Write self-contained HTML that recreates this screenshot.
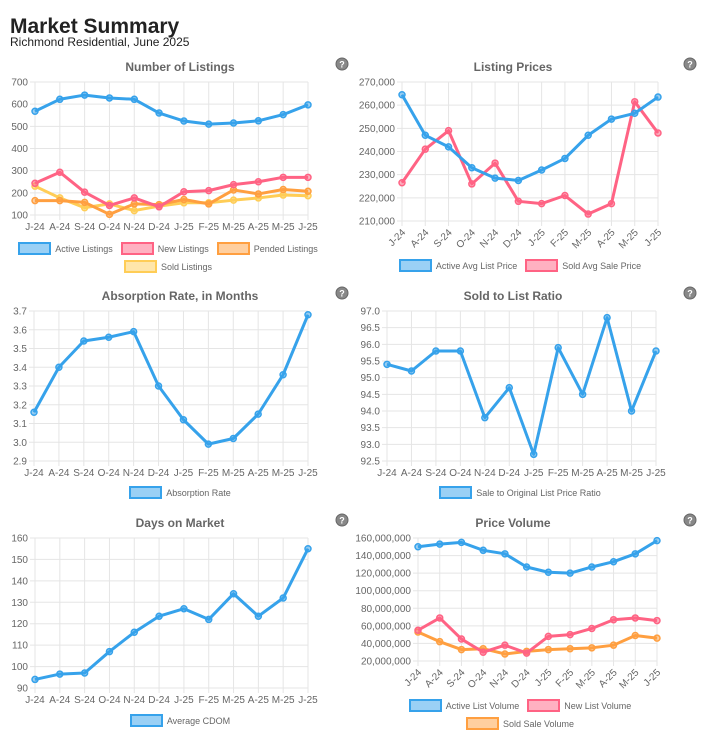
<!DOCTYPE html>
<html><head><meta charset="utf-8">
<style>
body{margin:0;background:#fff;width:719px;height:744px;overflow:hidden;font-family:"Liberation Sans",Arial,sans-serif;}
#wrap{position:relative;width:719px;height:744px;}
.leg{position:absolute;display:flex;flex-wrap:wrap;justify-content:center;font-size:9px;color:#666;row-gap:5px;}
.li{display:flex;align-items:center;margin:0 4px;}
.bx{width:29px;height:9px;border:2px solid;margin-right:4px;box-sizing:content-box;}
</style></head><body>
<div id="wrap">
<svg id="svg" width="719" height="744" style="position:absolute;left:0;top:0">
<text x="10" y="33" font-size="21" font-weight="bold" fill="#222">Market Summary</text>
<text x="10" y="46" font-size="12" fill="#222">Richmond Residential, June 2025</text>
</svg>
</div>
<script>
const months=["J-24","A-24","S-24","O-24","N-24","D-24","J-25","F-25","M-25","A-25","M-25","J-25"];
const activeListings=[568,622,641,628,622,560,524,510,515,525,553,597];
const newListings=[243,293,203,143,177,137,205,210,237,250,270,270];
const pendedListings=[165,165,157,103,150,147,170,150,213,195,215,207];
const soldListings=[230,177,133,150,120,140,155,155,167,177,190,187];
const activeAvgListPrice=[264500,247000,242000,233000,228500,227500,232000,237000,247000,254000,256500,263500];
const soldAvgSalePrice=[226500,241000,249000,226000,235000,218500,217500,221000,213000,217500,261500,248000];
const absorptionRate=[3.16,3.40,3.54,3.56,3.59,3.30,3.12,2.99,3.02,3.15,3.36,3.68];
const saleToListRatio=[95.4,95.2,95.8,95.8,93.8,94.7,92.7,95.9,94.5,96.8,94.0,95.8];
const averageCdom=[94,96.5,97,107,116,123.5,127,122,134,123.5,132,155];
const activeListVolume=[150e6,153e6,155e6,146e6,142e6,127e6,121e6,120e6,127e6,133e6,142e6,157e6];
const newListVolume=[55e6,69e6,45e6,30e6,38e6,29e6,48e6,50e6,57e6,67e6,69e6,66e6];
const soldSaleVolume=[53e6,42e6,33e6,34e6,28e6,31e6,33e6,34e6,35e6,38e6,49e6,46e6];
const yTicks1=[100,200,300,400,500,600,700];
const yTicks2=[210000,220000,230000,240000,250000,260000,270000];
const yTicks3=[2.9,3.0,3.1,3.2,3.3,3.4,3.5,3.6,3.7];
const yTicks4=[92.5,93.0,93.5,94.0,94.5,95.0,95.5,96.0,96.5,97.0];
const yTicks5=[90,100,110,120,130,140,150,160];
const yTicks6=[20e6,40e6,60e6,80e6,100e6,120e6,140e6,160e6];

const C={blue:"#36a2eb",pink:"#ff6384",orange:"#ff9f40",yellow:"#ffcd56"};
const fill={blue:"rgba(54,162,235,0.5)",pink:"rgba(255,99,132,0.5)",orange:"rgba(255,159,64,0.5)",yellow:"rgba(255,205,86,0.5)"};
const svg=document.getElementById('svg');
const wrap=document.getElementById('wrap');
const NS="http://www.w3.org/2000/svg";
function mk(tag,attrs,parent){const e=document.createElementNS(NS,tag);for(const k in attrs)e.setAttribute(k,attrs[k]);(parent||svg).appendChild(e);return e;}
const fmtComma=v=>v.toLocaleString('en-US');

function chart(cfg){
  const g=mk('g',{});
  
  
  const x0=cfg.x0,x1=cfg.x1,yT=cfg.yT,yB=cfg.yB;
  const lo=cfg.ticks[0],hi=cfg.ticks[cfg.ticks.length-1];
  const xs=i=>x0+(x1-x0)*i/(months.length-1);
  const ys=v=>yB-(v-lo)/(hi-lo)*(yB-yT);
  // title
  const t=mk('text',{x:cfg.tx,y:cfg.yT-11,'font-size':12,'font-weight':'bold',fill:'#666','text-anchor':'middle'},g);
  t.textContent=cfg.title;
  
  
  // help icon
  const h=mk('g',{},g);
  
  
  mk('circle',{cx:cfg.hx,cy:cfg.yT-18,r:6,fill:'#888',stroke:'#666'},h);
  const q=mk('text',{x:cfg.hx,y:cfg.yT-14.5,'font-size':9,'font-weight':'bold',fill:'#fff','text-anchor':'middle'},h);q.textContent='?';
  // grid
  cfg.ticks.forEach(v=>{
    mk('line',{x1:x0-5,x2:x1,y1:ys(v),y2:ys(v),stroke:'#e5e5e5'},g);
    const l=mk('text',{x:x0-7,y:ys(v)+3.5,'font-size':10,fill:'#666','text-anchor':'end'},g);
    l.textContent=cfg.fmt(v);
    
    
  });
  months.forEach((m,i)=>{
    mk('line',{x1:xs(i),x2:xs(i),y1:yT,y2:yB+5,stroke:'#e5e5e5'},g);
    let l;
    if(cfg.rot){l=mk('text',{x:xs(i)+4,y:yB+12,'font-size':10,fill:'#666','text-anchor':'end',transform:`rotate(-45 ${xs(i)+4} ${yB+12})`},g);}
    else{l=mk('text',{x:xs(i),y:yB+15,'font-size':10,fill:'#666','text-anchor':'middle'},g);}
    l.textContent=m;
    
    
  });
  // series (draw in reverse so first on top)
  cfg.series.slice().reverse().forEach(s=>{
    const p=mk('polyline',{points:s.data.map((v,i)=>xs(i)+','+ys(v)).join(' '),fill:'none',stroke:C[s.c],'stroke-width':3,'stroke-linejoin':'round'},g);
    
    
    s.data.forEach((v,i)=>{
      const c=mk('circle',{cx:xs(i),cy:ys(v),r:3,fill:fill[s.c],stroke:C[s.c],'stroke-width':1.5},g);
      
      
    });
  });
  // legend
  const L=document.createElement('div');
  L.className='leg';
  L.style.left=cfg.lx+'px';L.style.top=cfg.ly+'px';L.style.width=cfg.lw+'px';
  
  
  cfg.series.forEach(s=>{
    const it=document.createElement('div');it.className='li';
    
    
    const b=document.createElement('span');b.className='bx';b.style.borderColor=C[s.c];b.style.background=fill[s.c];
    it.appendChild(b);it.appendChild(document.createTextNode(s.label));L.appendChild(it);
  });
  wrap.appendChild(L);
}

chart({name:'number-of-listings-chart',title:'Number of Listings',tx:180,hx:342,x0:35,x1:308,yT:82,yB:215,ticks:yTicks1,fmt:v=>v,rot:false,lx:8,ly:242,lw:320,
  series:[{label:'Active Listings',data:activeListings,c:'blue'},{label:'New Listings',data:newListings,c:'pink'},{label:'Pended Listings',data:pendedListings,c:'orange'},{label:'Sold Listings',data:soldListings,c:'yellow'}]});
chart({name:'listing-prices-chart',title:'Listing Prices',tx:513,hx:690,x0:402,x1:658,yT:82,yB:221,ticks:yTicks2,fmt:fmtComma,rot:true,lx:370,ly:259,lw:300,
  series:[{label:'Active Avg List Price',data:activeAvgListPrice,c:'blue'},{label:'Sold Avg Sale Price',data:soldAvgSalePrice,c:'pink'}]});
chart({name:'absorption-rate-chart',title:'Absorption Rate, in Months',tx:180,hx:342,x0:34,x1:308,yT:311,yB:461,ticks:yTicks3,fmt:v=>v.toFixed(1),rot:false,lx:20,ly:486,lw:320,
  series:[{label:'Absorption Rate',data:absorptionRate,c:'blue'}]});
chart({name:'sold-to-list-ratio-chart',title:'Sold to List Ratio',tx:513,hx:690,x0:387,x1:656,yT:311,yB:461,ticks:yTicks4,fmt:v=>v.toFixed(1),rot:false,lx:370,ly:486,lw:300,
  series:[{label:'Sale to Original List Price Ratio',data:saleToListRatio,c:'blue'}]});
chart({name:'days-on-market-chart',title:'Days on Market',tx:180,hx:342,x0:35,x1:308,yT:538,yB:688,ticks:yTicks5,fmt:v=>v,rot:false,lx:20,ly:714,lw:320,
  series:[{label:'Average CDOM',data:averageCdom,c:'blue'}]});
chart({name:'price-volume-chart',title:'Price Volume',tx:513,hx:690,x0:418,x1:657,yT:538,yB:661,ticks:yTicks6,fmt:fmtComma,rot:true,lx:385,ly:699,lw:270,
  series:[{label:'Active List Volume',data:activeListVolume,c:'blue'},{label:'New List Volume',data:newListVolume,c:'pink'},{label:'Sold Sale Volume',data:soldSaleVolume,c:'orange'}]});
</script>
</body></html>
